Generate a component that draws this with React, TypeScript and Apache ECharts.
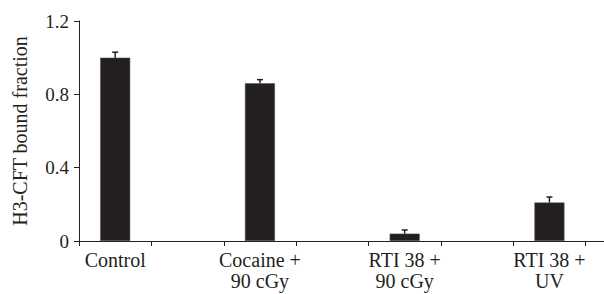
import React, { useEffect, useRef } from "react";
import * as echarts from "echarts";

const categories = ["Control", "", "Cocaine +\n90 cGy", "", "RTI 38 +\n90 cGy", "", "RTI 38 +\nUV", ""];
const values: (number | null)[] = [1.0, null, 0.86, null, 0.04, null, 0.21, null];
const errors: (number | null)[] = [0.03, null, 0.02, null, 0.02, null, 0.03, null];
const yTicks = [0, 0.4, 0.8, 1.2];

const INK = "#231f20";
const FONT = "'Liberation Serif', 'Times New Roman', serif";

export default function App() {
  const ref = useRef<HTMLDivElement>(null);
  useEffect(() => {
    if (!ref.current) return;
    const chart = echarts.init(ref.current, null, { renderer: "svg" });
    const errData = values
      .map((v, i) => (v == null ? null : [i, v, (v as number) + (errors[i] as number)]))
      .filter((d) => d != null);
    chart.setOption({
      animation: false,
      grid: { left: 79, top: 21, width: 579, height: 220, containLabel: false },
      xAxis: {
        type: "category",
        data: categories,
        boundaryGap: true,
        axisLine: { lineStyle: { color: INK, width: 1 } },
        axisTick: { show: true, length: 5, interval: 0, lineStyle: { color: INK } },
        axisLabel: {
          interval: 0,
          color: INK,
          fontFamily: FONT,
          fontSize: 20,
          lineHeight: 21,
          margin: 8,
        },
        splitLine: { show: false },
      },
      yAxis: {
        type: "value",
        min: 0,
        max: 1.2,
        interval: 0.4,
        name: "H3-CFT bound fraction",
        nameLocation: "middle",
        nameGap: 49,
        nameTextStyle: { color: INK, fontFamily: FONT, fontSize: 20 },
        axisLine: { show: true, lineStyle: { color: INK, width: 1 } },
        axisTick: { show: true, length: 5, lineStyle: { color: INK } },
        axisLabel: {
          color: INK,
          fontFamily: FONT,
          fontSize: 19,
          margin: 10,
          formatter: (v: number) => {
            const t = yTicks.find((x) => Math.abs(x - v) < 1e-9);
            return t === undefined ? "" : String(t);
          },
        },
        splitLine: { show: false },
      },
      series: [
        {
          type: "bar",
          data: values,
          barWidth: 30,
          itemStyle: { color: INK, borderColor: "#555", borderWidth: 0.5 },
          z: 2,
        },
        {
          type: "custom",
          data: errData,
          z: 3,
          renderItem: (params: any, api: any) => {
            const x = api.value(0);
            const base = api.coord([x, api.value(1)]);
            const top = api.coord([x, api.value(2)]);
            const style = { stroke: INK, lineWidth: 1.5 };
            return {
              type: "group",
              children: [
                { type: "line", shape: { x1: base[0], y1: base[1], x2: top[0], y2: top[1] }, style },
                { type: "line", shape: { x1: top[0] - 3, y1: top[1], x2: top[0] + 3, y2: top[1] }, style },
              ],
            };
          },
        },
      ],
    });
    return () => chart.dispose();
  }, []);
  return (
    <div
      style={{ position: "fixed", left: 0, top: 0, width: 604, height: 294, overflow: "hidden", background: "#fff" }}
    >
      <div ref={ref} style={{ width: 670, height: 294 }} />
    </div>
  );
}
